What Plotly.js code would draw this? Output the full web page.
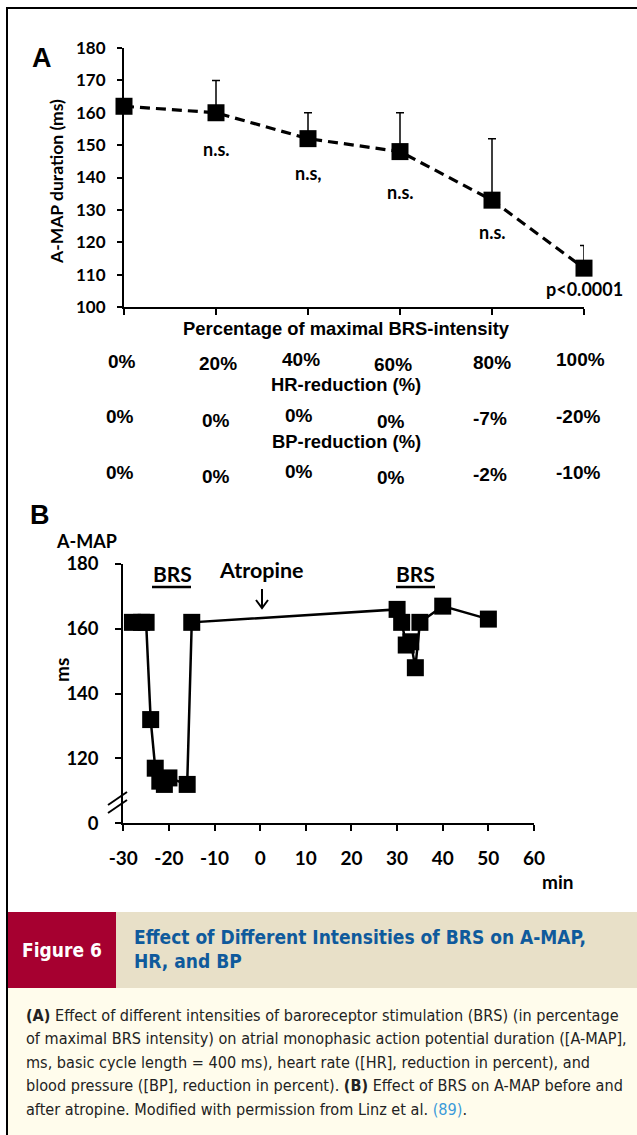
<!DOCTYPE html>
<html>
<head>
<meta charset="utf-8">
<script src="https://cdn.plot.ly/plotly-3.0.1.min.js"></script>
<style>
  html, body { margin: 0; padding: 0; background: #ffffff; }
  #chart { width: 637px; height: 1135px; }
</style>
</head>
<body>
<div id="chart"></div>
<script>
// ---------- DATA ----------
const intensityLabels = ['0%', '20%', '40%', '60%', '80%', '100%'];
const amapDuration = [162, 160, 152, 148, 133, 112];
const amapErrorUp = [0, 10, 8, 12, 19, 7];
const significance = ['', 'n.s.', 'n.s,', 'n.s.', 'n.s.', 'p<0.0001'];
const hrReduction = ['0%', '0%', '0%', '0%', '-7%', '-20%'];
const bpReduction = ['0%', '0%', '0%', '0%', '-2%', '-10%'];

const timeMin = [-28, -26, -25, -24, -23, -22, -21, -20, -16, -15, 30, 31, 32, 33, 34, 35, 40, 50];
const amapB = [162, 162, 162, 132, 117, 113, 112, 114, 112, 162, 166, 162, 155, 156, 148, 162, 167, 163];
const yTickValsB = [100, 120, 140, 160, 180];
const yTickTextB = ['0', '120', '140', '160', '180'];
const xTickValsB = [-30, -20, -10, 0, 10, 20, 30, 40, 50, 60];
const xTickTextB = ['-30', '-20', '-10', '0', '10', '20', '30', '40', '50', '60'];

// ---------- helpers (pixel -> paper) ----------
const W = 637, H = 1135;
const px = v => v / W;
const py = v => 1 - v / H;

const CAL = 'Lato, "Open Sans", sans-serif';
const ARB = '"Liberation Sans", Arial, sans-serif';
const NARROW = '"Liberation Sans Narrow", "Arial Narrow", "DejaVu Sans Condensed", sans-serif';

// ---------- traces ----------
const traceA = {
  x: intensityLabels.map((_, i) => i),
  y: amapDuration,
  type: 'scatter',
  mode: 'lines+markers',
  xaxis: 'x', yaxis: 'y',
  cliponaxis: false,
  line: { color: '#000', width: 3.2, dash: '10px,6px' },
  marker: { symbol: 'square', size: 17, color: '#000' },
  error_y: { type: 'data', symmetric: false, array: amapErrorUp,
             arrayminus: amapErrorUp.map(() => 0), color: '#000', thickness: 1.5, width: 4 },
  hoverinfo: 'skip'
};

const traceB = {
  x: timeMin,
  y: amapB,
  type: 'scatter',
  mode: 'lines+markers',
  xaxis: 'x2', yaxis: 'y2',
  cliponaxis: false,
  line: { color: '#000', width: 2.5 },
  marker: { symbol: 'square', size: 17, color: '#000' },
  hoverinfo: 'skip'
};

// ---------- annotations ----------
const ann = [];
function label(text, x, y, font, extra) {
  ann.push(Object.assign({ text: text, xref: 'paper', yref: 'paper', x: px(x), y: py(y),
    xanchor: 'center', yanchor: 'middle', showarrow: false, font: font }, extra || {}));
}
// panel letters
label('<b>A</b>', 42, 58, { family: ARB, size: 27, color: '#000' });
label('<b>B</b>', 40, 515, { family: ARB, size: 27, color: '#000' });

// axis title A
label('<b>A-MAP duration (ms)</b>', 57, 182, { family: CAL, size: 17.5, color: '#000' }, { textangle: -90 });

// significance labels
const sigShift = [0, -36, -34, -40, -32, -21];
significance.forEach((s, i) => {
  if (!s) return;
  ann.push({ text: '<b>' + s + '</b>', xref: 'x', yref: 'y', x: i, y: amapDuration[i],
    xanchor: 'center', yanchor: 'middle',
    yshift: sigShift[i], showarrow: false, font: { family: CAL, size: 18, color: '#000' } });
});

// rows below panel A
label('<b>Percentage of maximal BRS-intensity</b>', 346, 328, { family: ARB, size: 18.4, color: '#000' });
label('<b>HR-reduction (%)</b>', 346, 385, { family: ARB, size: 18.4, color: '#000' });
label('<b>BP-reduction (%)</b>', 346, 441, { family: ARB, size: 18.4, color: '#000' });

const rowNudgeX = [-2, 2, -7, -7, 0, -4];
const row1NudgeY = [0, 2, -2, 3, 1, -2];
const row23NudgeY = [-2, 2, -3, 3, 0, -2];
function rowLabels(arr, yPix, nudgeY, dx) {
  arr.forEach((t, i) => {
    ann.push({ text: '<b>' + t + '</b>', xref: 'x', yref: 'paper', x: i, y: py(yPix),
      xanchor: 'center', yanchor: 'middle',
      xshift: rowNudgeX[i] + dx, yshift: -nudgeY[i], showarrow: false,
      font: { family: ARB, size: 19, color: '#000' } });
  });
}
rowLabels(intensityLabels, 361, row1NudgeY, 0);
rowLabels(hrReduction, 418, row23NudgeY, -2);
rowLabels(bpReduction, 474, row23NudgeY, -2);

// panel B texts
label('<b>A-MAP</b>', 86, 541, { family: CAL, size: 18, color: '#000' });
label('<b>ms</b>', 61, 670, { family: CAL, size: 19, color: '#000' }, { textangle: -90 });
label('<b>min</b>', 557, 881, { family: CAL, size: 19, color: '#000' });
label('<b>BRS</b>', 172, 573, { family: CAL, size: 21, color: '#000' });
label('<b>BRS</b>', 416, 573, { family: CAL, size: 21, color: '#000' });
label('<b>Atropine</b>', 261, 570, { family: CAL, size: 21.5, color: '#000' });

// caption header
label('<b>Figure 6</b>', 62, 950, { family: NARROW, size: 19, color: '#ffffff' });
label('<b>Effect of Different Intensities of BRS on A-MAP,</b>', 132, 937,
  { family: NARROW, size: 19, color: '#0f5a9c' }, { xanchor: 'left' });
label('<b>HR, and BP</b>', 132, 961,
  { family: NARROW, size: 19, color: '#0f5a9c' }, { xanchor: 'left' });

// caption body
const capLines = [
  '<b>(A)</b> Effect of different intensities of baroreceptor stimulation (BRS) (in percentage',
  'of maximal BRS intensity) on atrial monophasic action potential duration ([A-MAP],',
  'ms, basic cycle length = 400 ms), heart rate ([HR], reduction in percent), and',
  'blood pressure ([BP], reduction in percent). <b>(B)</b> Effect of BRS on A-MAP before and',
  'after atropine. Modified with permission from Linz et al. <span style="color:#3a9ad9">(89)</span>.'
];
const capY = [1015, 1038.5, 1062, 1085.5, 1109];
capLines.forEach((t, i) => {
  label(t, 24, capY[i], { family: NARROW, size: 16.1, color: '#222' }, { xanchor: 'left' });
});

// ---------- shapes ----------
const shapes = [
  // caption backgrounds
  { type: 'rect', xref: 'paper', yref: 'paper', x0: px(7), x1: 1, y0: py(1135), y1: py(988),
    fillcolor: '#fffcec', line: { width: 0 }, layer: 'below' },
  { type: 'rect', xref: 'paper', yref: 'paper', x0: px(116), x1: 1, y0: py(988), y1: py(912),
    fillcolor: '#e8e0c8', line: { width: 0 }, layer: 'below' },
  { type: 'rect', xref: 'paper', yref: 'paper', x0: px(7), x1: px(116), y0: py(988), y1: py(912),
    fillcolor: '#a60030', line: { width: 0 }, layer: 'below' },
  // frame (left + top)
  { type: 'line', xref: 'paper', yref: 'paper', x0: px(7), x1: px(7), y0: py(8), y1: 0,
    line: { color: '#000', width: 2 } },
  { type: 'line', xref: 'paper', yref: 'paper', x0: px(6), x1: 1, y0: py(8), y1: py(8),
    line: { color: '#000', width: 2 } },
  // BRS underlines
  { type: 'line', xref: 'paper', yref: 'paper', x0: px(152), x1: px(191), y0: py(587), y1: py(587),
    line: { color: '#000', width: 2.5 } },
  { type: 'line', xref: 'paper', yref: 'paper', x0: px(396), x1: px(435), y0: py(587), y1: py(587),
    line: { color: '#000', width: 2.5 } },
  // atropine arrow
  { type: 'line', xref: 'paper', yref: 'paper', x0: px(262), x1: px(262), y0: py(589), y1: py(608),
    line: { color: '#000', width: 2 } },
  { type: 'path', xref: 'paper', yref: 'paper',
    path: `M${px(256)},${py(600)} L${px(262)},${py(608)} L${px(268)},${py(600)}`,
    line: { color: '#000', width: 2 } },
  // axis break marks
  { type: 'line', xref: 'paper', yref: 'paper', x0: px(108), x1: px(127), y0: py(805), y1: py(792),
    line: { color: '#000', width: 2 } },
  { type: 'line', xref: 'paper', yref: 'paper', x0: px(108), x1: px(127), y0: py(813), y1: py(800),
    line: { color: '#000', width: 2 } }
];

// ---------- layout ----------
const axisCommon = {
  showgrid: false, zeroline: false, showline: true, linecolor: '#000', linewidth: 2,
  ticks: 'outside', tickcolor: '#000', tickwidth: 2, fixedrange: true
};

const layout = {
  width: W, height: H,
  margin: { l: 0, r: 0, t: 0, b: 0 },
  paper_bgcolor: '#ffffff',
  plot_bgcolor: 'rgba(0,0,0,0)',
  showlegend: false,
  xaxis: Object.assign({}, axisCommon, {
    domain: [px(124), px(584)], range: [0, 5], anchor: 'y',
    tickvals: intensityLabels.map((_, i) => i), showticklabels: false, ticklen: 6
  }),
  yaxis: Object.assign({}, axisCommon, {
    domain: [py(307), py(48)], range: [100, 180], dtick: 10, anchor: 'x',
    ticklen: 5, ticklabelstandoff: 8,
    tickfont: { family: CAL, size: 17, color: '#000', weight: 'bold' }
  }),
  xaxis2: Object.assign({}, axisCommon, {
    domain: [px(123.3), px(534)], range: [-30, 60], anchor: 'y2',
    tickvals: xTickValsB, ticktext: xTickTextB, ticklen: 6, ticklabelstandoff: 11,
    tickfont: { family: CAL, size: 19, color: '#000', weight: 'bold' }
  }),
  yaxis2: Object.assign({}, axisCommon, {
    domain: [py(823.3), py(564)], range: [100, 180], anchor: 'x2',
    tickvals: yTickValsB, ticktext: yTickTextB, ticklen: 6, ticklabelstandoff: 13,
    tickfont: { family: CAL, size: 18.5, color: '#000', weight: 'bold' }
  }),
  annotations: ann,
  shapes: shapes
};

Plotly.newPlot('chart', [traceA, traceB], layout, { staticPlot: true, displayModeBar: false });
</script>
</body>
</html>
